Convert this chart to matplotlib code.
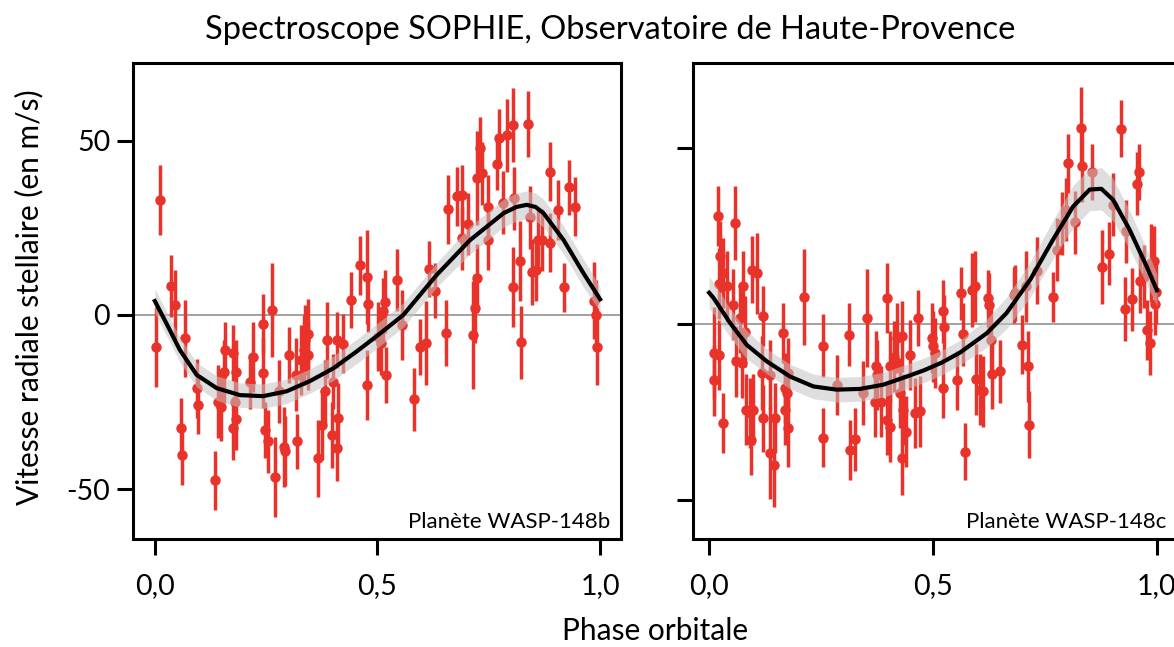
import matplotlib
matplotlib.use('Agg')
import matplotlib.pyplot as plt
import numpy as np

plt.rcParams['font.family'] = ['Lato', 'DejaVu Sans']

# ---- planet b : phase, RV, error
phase_b = [0.011, 0.002, 0.036, 0.045, 0.067, 0.058, 0.061, 0.094, 0.097, 0.135,
           0.142, 0.149, 0.157, 0.155, 0.176, 0.182, 0.180, 0.183, 0.176, 0.213,
           0.221, 0.242, 0.242, 0.264, 0.279, 0.247, 0.255, 0.270, 0.290, 0.293,
           0.302, 0.318, 0.320, 0.328, 0.334, 0.338, 0.345, 0.345, 0.366, 0.375,
           0.383, 0.386, 0.401, 0.397, 0.409, 0.412, 0.409, 0.422, 0.440, 0.461,
           0.477, 0.479, 0.476, 0.502, 0.513, 0.517, 0.509, 0.519, 0.543, 0.554,
           0.583, 0.595, 0.610, 0.616, 0.629, 0.655, 0.659, 0.678, 0.689, 0.689,
           0.704, 0.715, 0.719, 0.723, 0.723, 0.730, 0.734, 0.749, 0.749, 0.769,
           0.774, 0.783, 0.790, 0.804, 0.807, 0.805, 0.819, 0.822, 0.837, 0.843,
           0.848, 0.857, 0.861, 0.869, 0.888, 0.888, 0.905, 0.918, 0.930, 0.944,
           0.987, 0.994, 0.990]
rv_b = [33.0, -9.3, 8.3, 2.9, -6.7, -32.3, -40.2, -21.0, -25.8, -47.5,
        -24.9, -26.3, -10.0, -16.3, -11.0, -16.3, -25.0, -29.8, -32.5, -19.1,
        -12.0, -16.7, -2.6, 1.4, -21.9, -33.0, -36.3, -46.4, -37.8, -39.0,
        -11.5, -17.2, -36.3, -12.9, -10.0, -7.2, -5.4, -11.6, -41.1, -31.6,
        -21.9, -7.2, -19.1, -34.4, -38.2, -29.5, -7.2, -8.2, 4.3, 14.3,
        11.0, 3.1, -20.1, -6.2, 1.0, 3.8, -8.1, -17.2, 10.0, -2.9,
        -24.2, -9.1, -8.1, 13.1, 7.0, -5.1, 30.3, 34.1, 34.4, 22.0,
        26.1, -5.7, 1.9, 10.5, 39.2, 47.8, 40.6, 31.1, 21.5, 43.3,
        50.7, 32.2, 51.6, 54.5, 33.5, 8.1, 15.6, -7.9, 54.8, 28.0,
        12.4, 12.9, 21.5, 21.5, 41.1, 20.7, 30.1, 7.9, 36.6, 31.1,
        4.1, -9.1, 0.0]
err_b = [10, 11.5, 9, 10, 11, 8.5, 8.5, 8.5, 8.5, 8.5,
         10.5, 10, 8, 9, 8, 9, 10, 9, 9, 8,
         10, 10, 8.5, 13.5, 9, 8, 9, 11.5, 11.5, 10,
         8, 10.5, 8, 10, 10, 10, 10, 10, 11, 10,
         9, 11, 8, 9.5, 9.5, 10, 8, 8.5, 8, 8.5,
         13.5, 8, 10, 10, 9.5, 9, 9, 8, 9, 10,
         9, 8, 12, 8, 8, 9.5, 10, 8.5, 8.5, 9,
         9, 15.5, 10, 10, 13.5, 9, 9, 9, 8.5, 7.5,
         8.5, 9, 10.5, 10.5, 9, 11.5, 11.5, 10.5, 9.5, 9,
         9.5, 9, 9, 9, 8.5, 8.5, 8.5, 7, 8, 8.5,
         11, 11, 10]

fit_phase_b = [0.0, 0.026, 0.056, 0.094, 0.139, 0.191, 0.243, 0.296, 0.348, 0.401,
               0.453, 0.502, 0.558, 0.633, 0.708, 0.783, 0.812, 0.835, 0.855, 0.873,
               0.918, 0.963, 1.0]
fit_rv_b = [4.0, -2.4, -10.0, -17.2, -21.0, -23.0, -23.3, -21.9, -19.0, -15.3,
            -10.5, -5.7, 0.0, 11.5, 21.5, 29.2, 31.0, 31.6, 31.0, 29.2,
            21.5, 11.9, 4.5]
band_b = [3.5, 3.5, 3.5, 3.5, 3.5, 3.5, 3.5, 3.5, 3.5, 3.5,
          3.5, 3.5, 3.5, 3.5, 4.0, 4.0, 4.0, 4.0, 4.0, 4.0,
          4.0, 4.0, 3.5]

# ---- planet c
phase_c = [0.019, 0.058, 0.025, 0.032, 0.040, 0.021, 0.011, 0.021, 0.011, 0.032,
           0.054, 0.068, 0.075, 0.080, 0.060, 0.073, 0.095, 0.106, 0.121, 0.083,
           0.091, 0.099, 0.093, 0.118, 0.136, 0.120, 0.136, 0.144, 0.147, 0.164,
           0.170, 0.174, 0.170, 0.177, 0.177, 0.211, 0.254, 0.255, 0.285, 0.312,
           0.315, 0.325, 0.343, 0.353, 0.373, 0.374, 0.371, 0.383, 0.397, 0.397,
           0.404, 0.404, 0.412, 0.419, 0.430, 0.426, 0.434, 0.430, 0.440, 0.449,
           0.460, 0.471, 0.467, 0.497, 0.505, 0.500, 0.522, 0.525, 0.523, 0.553,
           0.563, 0.566, 0.571, 0.586, 0.594, 0.596, 0.605, 0.612, 0.623, 0.626,
           0.629, 0.631, 0.650, 0.681, 0.683, 0.698, 0.708, 0.713, 0.714, 0.732,
           0.767, 0.776, 0.787, 0.798, 0.802, 0.817, 0.830, 0.833, 0.856, 0.877,
           0.892, 0.901, 0.920, 0.930, 0.928, 0.944, 0.955, 0.960, 0.962, 0.971,
           0.977, 0.984, 0.986, 0.994, 0.995, 0.999]
rv_c = [30.7, 28.6, 19.1, 14.4, 10.6, 11.4, -8.3, -8.8, -16.1, -28.2,
        5.4, 1.6, 10.6, -2.2, -10.7, -11.2, 15.3, 14.4, 2.1, -24.4,
        -25.4, -24.4, -33.0, -14.0, -14.5, -26.8, -36.7, -40.0, -26.8, -2.7,
        -18.3, -19.7, -24.4, -14.0, -29.6, 7.6, -6.2, -32.3, -17.3, -3.1,
        -35.8, -32.8, -19.7, 1.6, -12.1, -14.5, -22.1, -22.1, 7.3, -27.3,
        -29.2, -12.1, -9.3, -4.0, -3.6, -19.7, -24.4, -38.2, -30.6, -8.8,
        -25.4, -24.9, 1.6, -4.0, -8.3, -6.4, 3.5, -0.8, -18.3, -16.1,
        8.7, -3.0, -36.3, 9.7, 10.6, -15.8, -18.7, -19.2, 7.2, 5.4,
        -4.5, -14.2, -13.5, 8.2, 8.7, -5.9, 10.6, -12.1, -28.7, 15.1,
        7.6, 21.0, 28.4, 32.4, 45.5, 28.8, 55.6, 44.7, 43.0, 16.1,
        19.9, 33.8, 55.4, 26.2, 4.2, 6.9, 39.8, 43.0, 12.0, 13.4,
        -1.7, -5.5, 17.2, 17.7, 5.7, 9.0]
err_c = [8.5, 10.5, 10, 10, 10, 10, 13, 10, 10, 8.5,
         10, 10, 10, 10, 10, 10, 9.5, 11.5, 8.5, 10,
         10, 10, 10, 10.5, 10, 9.5, 13, 12, 10, 8.5,
         10, 10, 10, 10, 11, 13.5, 9, 8.5, 8.5, 9,
         8.5, 9, 9, 14, 10, 10, 10, 10, 10, 10,
         10, 10, 10, 10, 10, 10, 10, 10.5, 10, 10,
         10, 10, 8, 10, 10, 10, 9, 9, 8.5, 8.5,
         7.5, 9, 8, 10.5, 10, 10, 10, 10, 8, 9,
         10, 10, 9, 8, 8, 8.5, 10, 10, 9.5, 9.5,
         7, 9, 9, 9, 8.5, 9, 11.5, 10, 8, 10.5,
         9, 9, 8, 9, 9, 9, 9, 8, 9, 9,
         8.5, 9, 11, 10, 9, 9]

fit_phase_c = [0.0, 0.010, 0.047, 0.084, 0.129, 0.181, 0.233, 0.285, 0.337, 0.389,
               0.441, 0.480, 0.520, 0.560, 0.620, 0.664, 0.717, 0.768, 0.813, 0.850,
               0.876, 0.902, 0.939, 0.977, 1.0]
fit_rv_c = [8.8, 7.3, 0.2, -6.0, -10.7, -15.0, -17.8, -18.7, -18.5, -17.3,
            -15.0, -13.2, -11.0, -8.2, -2.7, 3.0, 12.5, 23.9, 33.3, 38.1,
            38.3, 35.2, 26.7, 16.3, 9.5]
band_c = [4.5, 4.5, 4.0, 4.0, 3.5, 3.5, 3.5, 3.5, 3.5, 3.5,
          3.5, 3.5, 3.5, 3.5, 4.0, 4.5, 5.0, 5.5, 6.0, 6.0,
          6.0, 6.0, 5.5, 5.0, 4.5]

red = '#e8322a'

fig = plt.figure(figsize=(11.74, 6.47), dpi=100)
ax1 = fig.add_axes([0.1133, 0.1669, 0.4157, 0.7362])
ax2 = fig.add_axes([0.5903, 0.1669, 0.4123, 0.7362])

panels = [
    (ax1, phase_b, rv_b, err_b, fit_phase_b, fit_rv_b, band_b,
     (-0.049, 1.047), (-64.3, 72.4), 'Planète WASP-148b'),
    (ax2, phase_c, rv_c, err_c, fit_phase_c, fit_rv_c, band_c,
     (-0.036, 1.045), (-61.1, 74.1), 'Planète WASP-148c'),
]

for ax, ph, rv, er, fph, frv, bw, xl, yl, name in panels:
    ax.axhline(0, color='#9a9a9a', lw=1.3, zorder=1)
    ax.errorbar(ph, rv, yerr=er, fmt='o', color=red, ms=6.5, elinewidth=2.5,
                capsize=0, zorder=2)
    fph = np.array(fph)
    frv = np.array(frv)
    bw = np.array(bw)
    ax.fill_between(fph, frv - bw, frv + bw, color='#c4c4c4', alpha=0.55,
                    lw=0, zorder=3)
    ax.plot(fph, frv, color='black', lw=3, zorder=4)
    ax.set_xlim(*xl)
    ax.set_ylim(*yl)
    ax.set_xticks([0, 0.5, 1.0])
    ax.set_xticklabels(['0,0', '0,5', '1,0'])
    ax.set_yticks([-50, 0, 50])
    for s in ax.spines.values():
        s.set_linewidth(2.2)
    ax.tick_params(direction='out', length=11.5, width=2.2, labelsize=20.5)
    ax.tick_params(axis='x', pad=13)
    ax.tick_params(axis='y', pad=5)
    ax.text(0.977, 0.036, name, transform=ax.transAxes, ha='right',
            va='center', fontsize=16)

ax1.set_yticklabels(['-50', '0', '50'])
ax2.set_yticklabels([])

fig.text(0.520, 0.953, 'Spectroscope SOPHIE, Observatoire de Haute-Provence',
         ha='center', va='center', fontsize=23.5)
fig.text(0.558, 0.011, 'Phase orbitale', ha='center', va='baseline',
         fontsize=21.5)
fig.text(0.025, 0.54, 'Vitesse radiale stellaire (en m/s)', ha='center',
         va='center', rotation=90, fontsize=21.5)

fig.savefig('out.png', dpi=100)
